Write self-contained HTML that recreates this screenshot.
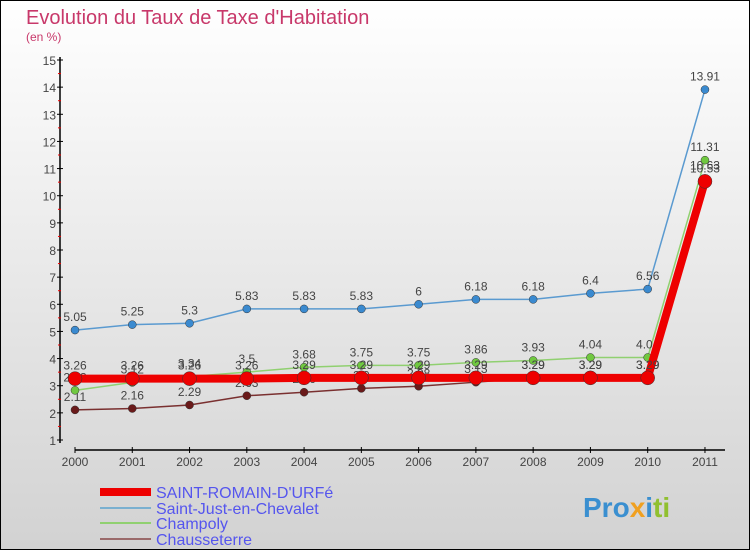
<!DOCTYPE html>
<html><head><meta charset="utf-8"><style>
body{margin:0;}
#wrap{width:750px;height:550px;position:relative;overflow:hidden;font-family:"Liberation Sans",sans-serif;}
</style></head><body>
<div id="wrap">
<svg id="chart" width="750" height="550" xmlns="http://www.w3.org/2000/svg">
<defs><linearGradient id="bg" x1="0" y1="0" x2="0" y2="1"><stop offset="0" stop-color="#ffffff"/><stop offset="1" stop-color="#d2d2d2"/></linearGradient></defs>
<rect x="0" y="0" width="750" height="550" fill="url(#bg)" stroke="#000" stroke-width="2"/>
<text x="26" y="24" font-size="20" fill="#c8386a">Evolution du Taux de Taxe d'Habitation</text>
<text x="26" y="41" font-size="12" fill="#c8386a">(en %)</text>
<g id="axes"></g><g id="series"></g>
<g>
<rect x="100" y="488" width="51" height="8" fill="#ee0000"/>
<text x="156" y="498" font-size="16" fill="#5555ee">SAINT-ROMAIN-D'URFé</text>
<line x1="100" y1="508" x2="151" y2="508" stroke="#7ab0d0" stroke-width="2"/>
<text x="156" y="514" font-size="16" fill="#5555ee">Saint-Just-en-Chevalet</text>
<line x1="100" y1="523" x2="151" y2="523" stroke="#90d070" stroke-width="2"/>
<text x="156" y="529" font-size="16" fill="#5555ee">Champoly</text>
<line x1="100" y1="539" x2="151" y2="539" stroke="#9a6a6a" stroke-width="2"/>
<text x="156" y="545" font-size="16" fill="#5555ee">Chausseterre</text>
</g>
<text x="583" y="517" font-size="28" font-weight="bold" fill="#3a8fd0">Pro<tspan fill="#f0a020">x</tspan><tspan fill="#3a8fd0">i</tspan><tspan fill="#90c030">ti</tspan></text>
</svg></div>
<script>
const years=["2000","2001","2002","2003","2004","2005","2006","2007","2008","2009","2010","2011"];
const yTicks=[1,2,3,4,5,6,7,8,9,10,11,12,13,14,15];
const saintRomain=[3.26,3.26,3.26,3.26,3.29,3.29,3.29,3.29,3.29,3.29,3.29,10.53];
const saintJust=[5.05,5.25,5.3,5.83,5.83,5.83,6,6.18,6.18,6.4,6.56,13.91];
const champoly=[2.83,3.12,3.34,3.5,3.68,3.75,3.75,3.86,3.93,4.04,4.04,11.31];
const chausseterre=[2.11,2.16,2.29,2.63,2.76,2.9,2.98,3.13,3.29,3.29,3.29,10.63];
const NS="http://www.w3.org/2000/svg";
const X0=75,XS=57.27,Y1=440,YS=380/14;
function xS(i){return X0+i*XS;}
function yS(v){return Y1-(v-1)*YS;}
function mk(tag,attrs,parent){const e=document.createElementNS(NS,tag);for(const k in attrs)e.setAttribute(k,attrs[k]);parent.appendChild(e);return e;}
const ax=document.getElementById('axes');
let yl=mk('line',{x1:60,y1:yS(15)-3,x2:60,y2:yS(1)+3,stroke:'#000','stroke-width':1.5},ax);


yTicks.forEach(t=>{
 let tk=mk('line',{x1:57,y1:yS(t),x2:63,y2:yS(t),stroke:'#000'},ax);
 
 
 let lb=mk('text',{x:56,y:yS(t)+5,'font-size':12,fill:'#444','text-anchor':'end'},ax);lb.textContent=t;
 
 
 if(t<15){let h=mk('line',{x1:58,y1:yS(t+0.5),x2:61,y2:yS(t+0.5),stroke:'#e00'},ax);
 
 }
});
let xl=mk('line',{x1:xS(0),y1:450,x2:725,y2:450,stroke:'#000','stroke-width':1.5},ax);


years.forEach((y,i)=>{
 let tk=mk('line',{x1:xS(i),y1:447,x2:xS(i),y2:453,stroke:'#000'},ax);
 
 
 let lb=mk('text',{x:xS(i),y:466,'font-size':12,fill:'#444','text-anchor':'middle'},ax);lb.textContent=y;
 
 
});
const sg=document.getElementById('series');
function draw(name,vals,color,w,r,fill){
 const g=mk('g',{},sg);
 
 
 const p=mk('polyline',{points:vals.map((v,i)=>xS(i)+','+yS(v)).join(' '),fill:'none',stroke:color,'stroke-width':w},g);
 
 
 vals.forEach((v,i)=>{
  const c=mk('circle',{cx:xS(i),cy:yS(v),r:r,fill:fill,stroke:'#333','stroke-width':0.5},g);
  
  
  const t=mk('text',{x:xS(i),y:yS(v)-9,'font-size':12,fill:'#444','text-anchor':'middle'},g);t.textContent=String(v);
  
  
 });
}
draw('chausseterre',chausseterre,'#7a3030',1.5,4,'#6a1a1a');
draw('champoly',champoly,'#90d070',1.5,4,'#70c840');
draw('saint-just',saintJust,'#5a9ad0',1.5,4,'#3a8ad0');
draw('saint-romain',saintRomain,'#ee0000',8,7,'#ee0000');
</script>
</body></html>
